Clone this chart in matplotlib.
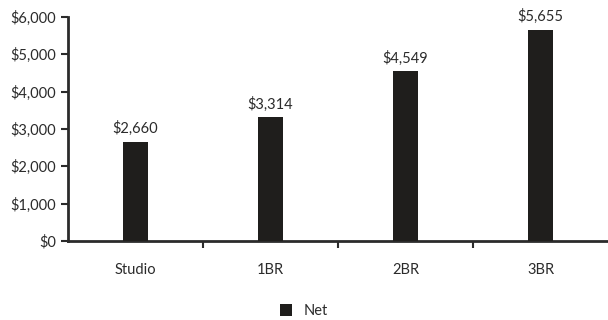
import matplotlib.pyplot as plt
from matplotlib.ticker import FuncFormatter

plt.rcParams['font.family'] = ['Lato', 'DejaVu Sans']

# data
categories = ['Studio', '1BR', '2BR', '3BR']
net = [2660, 3314, 4549, 5655]
yticks = [0, 1000, 2000, 3000, 4000, 5000, 6000]

bar_color = '#1f1e1c'
axis_color = '#2b2b2b'
text_color = '#2b2b2b'

fig = plt.figure(figsize=(6.08, 3.2), dpi=100)
ax = fig.add_axes([0.112, 0.247, 0.888, 0.7])

x = list(range(len(categories)))
bars = ax.bar(x, net, width=0.18, color=bar_color, label='Net', zorder=3)

# value labels
for xi, v in zip(x, net):
    ax.text(xi, v + 150, '${:,}'.format(v), ha='center', va='bottom',
            fontsize=10.5, color=text_color)

ax.set_xlim(-0.5, len(categories) - 0.5)
ax.set_ylim(0, 6000)
ax.set_yticks(yticks)
ax.yaxis.set_major_formatter(FuncFormatter(lambda v, p: '${:,.0f}'.format(v)))

ax.set_xticks(x)
ax.set_xticklabels(categories)
ax.set_xticks([i + 0.5 for i in x[:-1]], minor=True)
ax.tick_params(axis='x', which='major', length=0, pad=16, labelsize=10.5, labelcolor=text_color)
ax.tick_params(axis='x', which='minor', length=5, width=1.5, direction='out', color=axis_color)
ax.tick_params(axis='y', length=5, width=1.5, direction='out', color=axis_color,
               labelsize=10.5, labelcolor=text_color)

for s in ['top', 'right']:
    ax.spines[s].set_visible(False)
for s in ['left', 'bottom']:
    ax.spines[s].set_linewidth(2)
    ax.spines[s].set_color(axis_color)

fig.legend(handles=[bars], labels=['Net'], loc='center', bbox_to_anchor=(0.5, 0.028),
           frameon=False, fontsize=10.5, handlelength=0.8, handleheight=0.8,
           handletextpad=0.8, labelcolor=text_color)

fig.savefig('out.png', dpi=100)
